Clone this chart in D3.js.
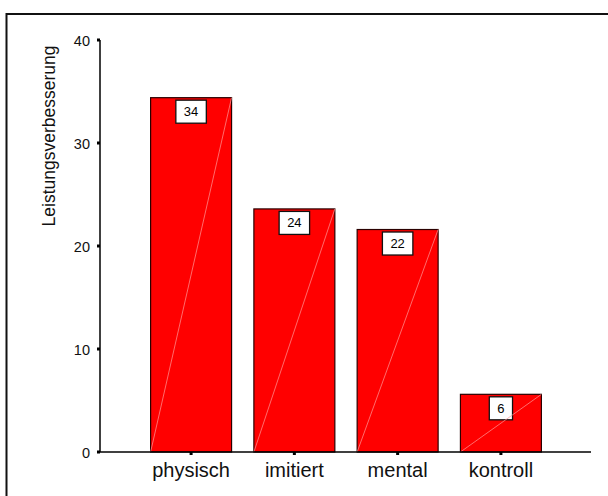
<!DOCTYPE html>
<html>
<head>
<meta charset="utf-8">
<script src="https://cdn.jsdelivr.net/npm/d3@7"></script>
<style>
  html, body { margin: 0; padding: 0; background: #fff; }
  svg { display: block; font-family: "Liberation Sans", Arial, sans-serif; }
</style>
</head>
<body>
<svg id="chart" width="608" height="496"></svg>
<script>
// Mean improvement per training group
const groups = ["physisch", "imitiert", "mental", "kontroll"];
const improvement = [34.4, 23.6, 21.6, 5.6];
const yTicks = [0, 10, 20, 30, 40];
const yTitle = "Leistungsverbesserung";

const svg = d3.select("#chart");

// Outer frame (runs off the right and bottom edges)
svg.append("rect")
  .attr("x", 6.5).attr("y", 14)
  .attr("width", 640).attr("height", 520)
  .attr("fill", "none")
  .attr("stroke", "#111")
  .attr("stroke-width", 2);

const x = d3.scaleBand()
  .domain(groups)
  .range([100, 592])
  .paddingInner(0.216)
  .paddingOuter(0.49);

const y = d3.scaleLinear()
  .domain([0, 40])
  .range([452, 40]);

const data = groups.map((g, i) => ({ group: g, value: improvement[i] }));

// Bars
const bars = svg.append("g");
bars.selectAll("rect")
  .data(data)
  .join("rect")
  .attr("x", d => x(d.group))
  .attr("y", d => y(d.value))
  .attr("width", x.bandwidth())
  .attr("height", d => y(0) - y(d.value))
  .attr("fill", "#ff0000")
  .attr("stroke", "#2a0000")
  .attr("stroke-width", 1.2);

// Value labels in boxes near the top of each bar
const fmt = d3.format(".0f");
const labels = svg.append("g");
data.forEach(d => {
  const cx = x(d.group) + x.bandwidth() / 2;
  const top = y(d.value) + 2.5;
  const g = labels.append("g");
  const t = g.append("text")
    .attr("x", cx)
    .attr("y", top + 16)
    .attr("text-anchor", "middle")
    .attr("font-size", 13)
    .attr("fill", "#000")
    .text(fmt(d.value));
  const w = t.node().getComputedTextLength() + 16;
  g.insert("rect", "text")
    .attr("x", cx - w / 2)
    .attr("y", top)
    .attr("width", w)
    .attr("height", 23)
    .attr("fill", "#fff")
    .attr("stroke", "#111")
    .attr("stroke-width", 1.3);
});

// Faint diagonal stroke across each bar
svg.append("g").selectAll("line")
  .data(data)
  .join("line")
  .attr("x1", d => x(d.group))
  .attr("y1", y(0))
  .attr("x2", d => x(d.group) + x.bandwidth())
  .attr("y2", d => y(d.value))
  .attr("stroke", "#ff9a9a")
  .attr("stroke-width", 0.7);

// Y axis
const yAxis = svg.append("g");
yAxis.append("line")
  .attr("x1", 100).attr("x2", 100)
  .attr("y1", y(40)).attr("y2", y(0))
  .attr("stroke", "#000").attr("stroke-width", 1.5);
yAxis.selectAll("rect.tick")
  .data(yTicks)
  .join("rect")
  .attr("class", "tick")
  .attr("x", 97).attr("y", d => y(d) - 1.5)
  .attr("width", 3).attr("height", 3)
  .attr("fill", "#000");
yAxis.selectAll("text")
  .data(yTicks)
  .join("text")
  .attr("x", 90)
  .attr("y", d => y(d) + 5.5)
  .attr("text-anchor", "end")
  .attr("font-size", 14.5)
  .attr("fill", "#111")
  .text(d => d);

// X axis
const xAxis = svg.append("g");
xAxis.append("line")
  .attr("x1", 100).attr("x2", 591)
  .attr("y1", y(0)).attr("y2", y(0))
  .attr("stroke", "#000").attr("stroke-width", 1.5);
xAxis.selectAll("rect.tick")
  .data(groups)
  .join("rect")
  .attr("class", "tick")
  .attr("x", d => x(d) + x.bandwidth() / 2 - 1.5)
  .attr("y", y(0))
  .attr("width", 3).attr("height", 3)
  .attr("fill", "#000");
xAxis.selectAll("text")
  .data(groups)
  .join("text")
  .attr("x", d => x(d) + x.bandwidth() / 2)
  .attr("y", 476.5)
  .attr("text-anchor", "middle")
  .attr("font-size", 20)
  .attr("fill", "#111")
  .text(d => d);

// Y axis title
svg.append("text")
  .attr("transform", "translate(55,136) rotate(-90)")
  .attr("text-anchor", "middle")
  .attr("font-size", 17.5)
  .attr("fill", "#111")
  .text(yTitle);
</script>
</body>
</html>
